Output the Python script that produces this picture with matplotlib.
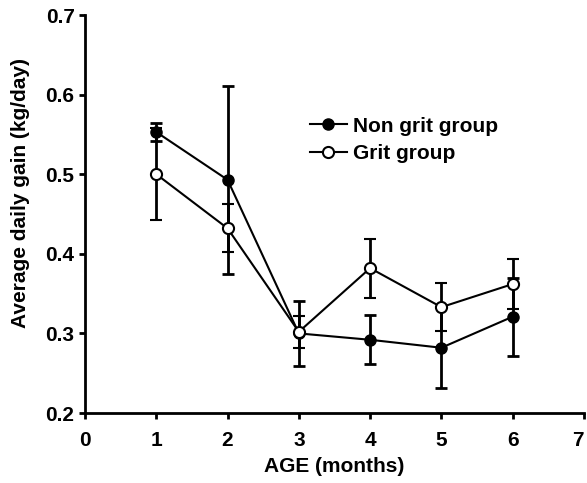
import matplotlib.pyplot as plt
import numpy as np

age = [1, 2, 3, 4, 5, 6]
non_grit = [0.553, 0.493, 0.300, 0.292, 0.282, 0.321]
non_grit_err = [0.011, 0.118, 0.041, 0.031, 0.051, 0.049]
grit = [0.500, 0.432, 0.302, 0.382, 0.333, 0.362]
grit_err = [0.058, 0.030, 0.020, 0.037, 0.030, 0.031]

plt.rcParams['font.family'] = ['Liberation Sans', 'DejaVu Sans']
plt.rcParams['font.weight'] = 'bold'

fig = plt.figure(figsize=(5.87, 4.83), dpi=100)
ax = fig.add_axes([0.1448, 0.1449, 0.850, 0.824])

ax.errorbar(age, non_grit, yerr=non_grit_err, color='black', marker='o', ms=8,
            mfc='black', mec='black', lw=1.5, elinewidth=2, capsize=4, capthick=2,
            label='Non grit group')
ax.errorbar(age, grit, yerr=grit_err, color='black', marker='o', ms=8,
            mfc='white', mec='black', mew=1.5, lw=1.5, elinewidth=2, capsize=4, capthick=2,
            label='Grit group')

ax.set_xlim(0, 7)
ax.set_ylim(0.2, 0.7)
ax.set_xticks(range(0, 8))
ax.set_yticks([0.2, 0.3, 0.4, 0.5, 0.6, 0.7])
ax.set_yticklabels(['0.2', '0.3', '0.4', '0.5', '0.6', '0.7'])
ax.spines['top'].set_visible(False)
ax.spines['right'].set_visible(False)
ax.spines['left'].set_linewidth(2)
ax.spines['bottom'].set_linewidth(2)
ax.tick_params(width=2, length=4, labelsize=15)
ax.tick_params(axis='x', pad=9)
# last label sits inside the figure edge, as in the original
ax.get_xticklabels()[-1].set_horizontalalignment('right')
ax.set_xlabel('AGE (months)', fontsize=15, fontweight='bold', labelpad=5)
ax.set_ylabel('Average daily gain (kg/day)', fontsize=15, fontweight='bold')
ax.yaxis.set_label_coords(-0.110, 0.553)

handles, labels = ax.get_legend_handles_labels()
handles = [h[0] for h in handles]
ax.legend(handles, labels, loc='upper left', bbox_to_anchor=(0.45, 0.745), frameon=False,
          fontsize=15, handlelength=1.8, handletextpad=0.3, borderpad=0, labelspacing=0.4,
          borderaxespad=0)

fig.savefig('out.png', dpi=100)
